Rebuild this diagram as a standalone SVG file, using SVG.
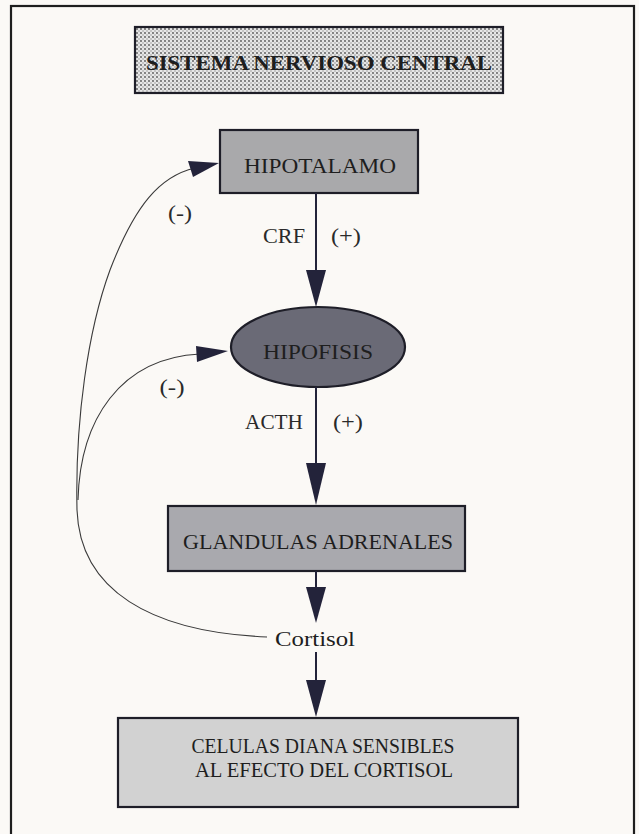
<svg xmlns="http://www.w3.org/2000/svg" width="639" height="834" viewBox="0 0 639 834">
<defs>
<pattern id="dots" width="4" height="4" patternUnits="userSpaceOnUse">
<rect width="4" height="4" fill="#e6e6e6"/>
<circle cx="1" cy="1" r="0.9" fill="#555"/>
<circle cx="3" cy="3" r="0.7" fill="#888"/>
</pattern>
</defs>
<style>
.bg{fill:#fbf9f6}
.frame{fill:none;stroke:#1e1e1e;stroke-width:2.2}
.box{stroke:#1e1e28;stroke-width:2.2}
.t{font-family:"Liberation Serif","DejaVu Serif",serif;fill:#1e1e1e}
.lbl{font-family:"Liberation Serif","DejaVu Serif",serif;fill:#2a2a2a;font-size:21px}
.ln{stroke:#23233a;stroke-width:2;fill:none}
.cv{stroke:#3a3a3a;stroke-width:1.1;fill:none}
.ah{fill:#23233a}
</style>
<rect class="bg" width="639" height="834"/>
<rect class="frame" x="11" y="6" width="623" height="840"/>

<g id="snc">
<rect class="box" x="135" y="27" width="368" height="66" fill="url(#dots)"/>
<text class="t" x="319" y="70" text-anchor="middle" font-size="22" font-weight="bold" textLength="346" lengthAdjust="spacingAndGlyphs">SISTEMA NERVIOSO CENTRAL</text>
</g>

<g id="hipotalamo">
<rect class="box" x="220" y="130" width="198" height="63" fill="#a9a9ab"/>
<text class="t" x="320" y="173" text-anchor="middle" font-size="21" textLength="152" lengthAdjust="spacingAndGlyphs">HIPOTALAMO</text>
</g>

<g id="hipofisis">
<ellipse class="box" cx="318" cy="347" rx="87" ry="40" fill="#6a6a76"/>
<text class="t" x="318" y="359" text-anchor="middle" font-size="20" fill="#202028" textLength="110" lengthAdjust="spacingAndGlyphs">HIPOFISIS</text>
</g>

<g id="glandulas">
<rect class="box" x="168" y="506" width="297" height="65" fill="#a9a9ae"/>
<text class="t" x="318" y="549" text-anchor="middle" font-size="21" textLength="270" lengthAdjust="spacingAndGlyphs">GLANDULAS ADRENALES</text>
</g>

<g id="celulas">
<rect class="box" x="118" y="718" width="400" height="89" fill="#d2d2d2"/>
<text class="t" x="323" y="753" text-anchor="middle" font-size="20" textLength="263" lengthAdjust="spacingAndGlyphs">CELULAS DIANA SENSIBLES</text>
<text class="t" x="324" y="777" text-anchor="middle" font-size="20" textLength="258" lengthAdjust="spacingAndGlyphs">AL EFECTO DEL CORTISOL</text>
</g>

<g id="cortisol">
<text class="t" x="315" y="646" text-anchor="middle" font-size="20" textLength="80" lengthAdjust="spacingAndGlyphs">Cortisol</text>
</g>

<g id="connectors">
<line class="ln" x1="316" y1="193" x2="316" y2="272"/>
<polygon class="ah" points="306,270 326,270 316,307"/>
<line class="ln" x1="316" y1="387" x2="316" y2="465"/>
<polygon class="ah" points="306,463 326,463 316,505"/>
<line class="ln" x1="316" y1="571" x2="316" y2="589"/>
<polygon class="ah" points="306,587 326,587 316,623"/>
<line class="ln" x1="316" y1="652" x2="316" y2="682"/>
<polygon class="ah" points="306,680 326,680 316,717"/>
<path class="cv" d="M 267 637 C 150 632 80 590 77 510 C 75 420 88 330 110 270 C 135 205 160 176 195 168"/>
<polygon class="ah" points="188,161 219,163 193,177"/>
<path class="cv" d="M 78 500 C 80 420 120 358 200 354"/>
<polygon class="ah" points="196,346 228,351 197,362"/>
<text class="lbl" x="284" y="243" text-anchor="middle" textLength="42" lengthAdjust="spacingAndGlyphs">CRF</text>
<text class="lbl" x="346" y="243" text-anchor="middle" textLength="30" lengthAdjust="spacingAndGlyphs">(+)</text>
<text class="lbl" x="274" y="429" text-anchor="middle" textLength="58" lengthAdjust="spacingAndGlyphs">ACTH</text>
<text class="lbl" x="348" y="429" text-anchor="middle" textLength="30" lengthAdjust="spacingAndGlyphs">(+)</text>
<text class="lbl" x="180" y="220" text-anchor="middle" textLength="24" lengthAdjust="spacingAndGlyphs">(-)</text>
<text class="lbl" x="172" y="394" text-anchor="middle" textLength="25" lengthAdjust="spacingAndGlyphs">(-)</text>
</g>
</svg>
